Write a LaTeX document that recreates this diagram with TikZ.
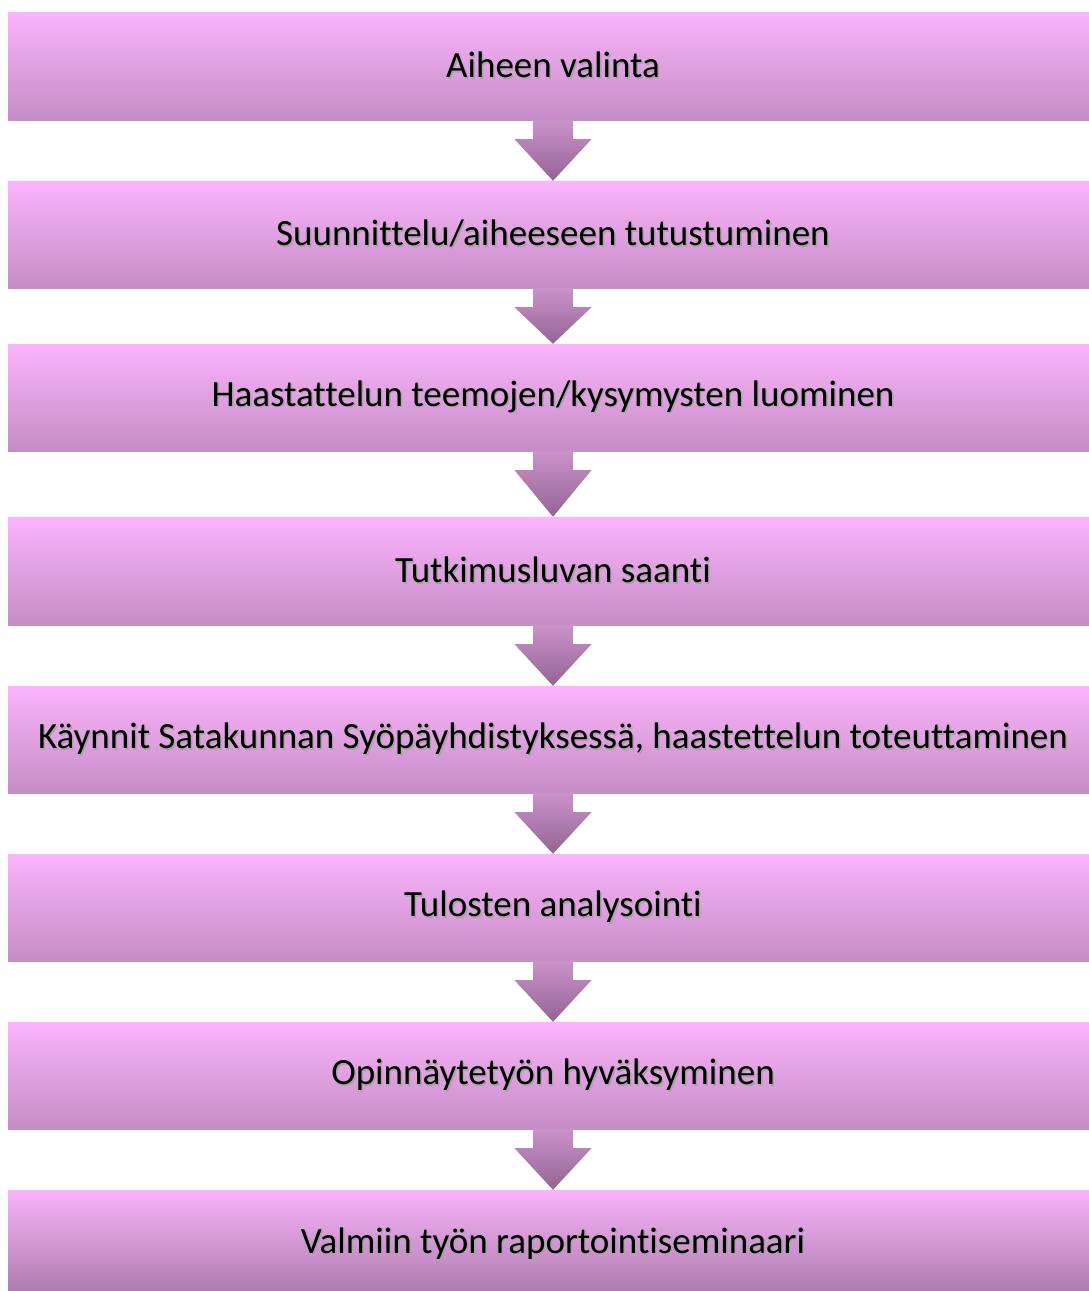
\documentclass[tikz,border=0pt]{standalone}
\usepackage{fontspec}
\setmainfont{Carlito}[Ligatures=NoCommon]
\usetikzlibrary{calc}
\definecolor{boxtop}{RGB}{250,180,252}
\definecolor{boxbot}{RGB}{198,140,198}
\definecolor{boxbotlast}{RGB}{168,120,168}
\definecolor{arrtop}{RGB}{202,146,202}
\definecolor{arrbot}{RGB}{148,100,148}
\newcommand\shd[1]{\makebox[0pt][l]{\hspace{1.5pt}\raisebox{-1.5pt}{\textcolor{black!35}{#1}}}#1}
\tikzset{
  stepbox/.style={rectangle, inner sep=0pt, minimum width=1090pt, top color=boxtop, bottom color=boxbot, font=\fontsize{37}{44}\selectfont, text=black},
  flowarrow/.style={top color=arrtop, bottom color=arrbot, draw=none}
}
\begin{document}
\begin{tikzpicture}[x=1pt,y=-1pt]
\clip (0,0) rectangle (1089,1291);
\fill[white] (0,0) rectangle (1089,1291);
\node[stepbox, minimum height=108pt] (b1) at (553,66) {\shd{Aiheen valinta}};
\node[stepbox, minimum height=107pt] (b2) at (553,234.5) {\shd{Suunnittelu/aiheeseen tutustuminen}};
\node[stepbox, minimum height=107pt] (b3) at (553,397.5) {\shd{Haastattelun teemojen/kysymysten luominen}};
\node[stepbox, minimum height=108pt] (b4) at (553,571) {\shd{Tutkimusluvan saanti}};
\node[stepbox, minimum height=107pt] (b5) at (553,739.5) {\shd{Käynnit Satakunnan Syöpäyhdistyksessä, haastettelun toteuttaminen}};
\node[stepbox, minimum height=107pt] (b6) at (553,907.5) {\shd{Tulosten analysointi}};
\node[stepbox, minimum height=107pt] (b7) at (553,1075.5) {\shd{Opinnäytetyön hyväksyminen}};
\node[stepbox, minimum height=108pt, bottom color=boxbotlast] (b8) at (553,1244) {\shd{Valmiin työn raportointiseminaari}};
\foreach \a/\b in {b1/b2,b2/b3,b3/b4,b4/b5,b5/b6,b6/b7,b7/b8}{
  \path[flowarrow] ($(\a.south)+(-20,0)$) -- ($(\a.south)+(-20,19)$) -- ($(\a.south)+(-38.5,19)$) -- (\b.north) -- ($(\a.south)+(38.5,19)$) -- ($(\a.south)+(20,19)$) -- ($(\a.south)+(20,0)$) -- cycle;
}
\end{tikzpicture}
\end{document}
